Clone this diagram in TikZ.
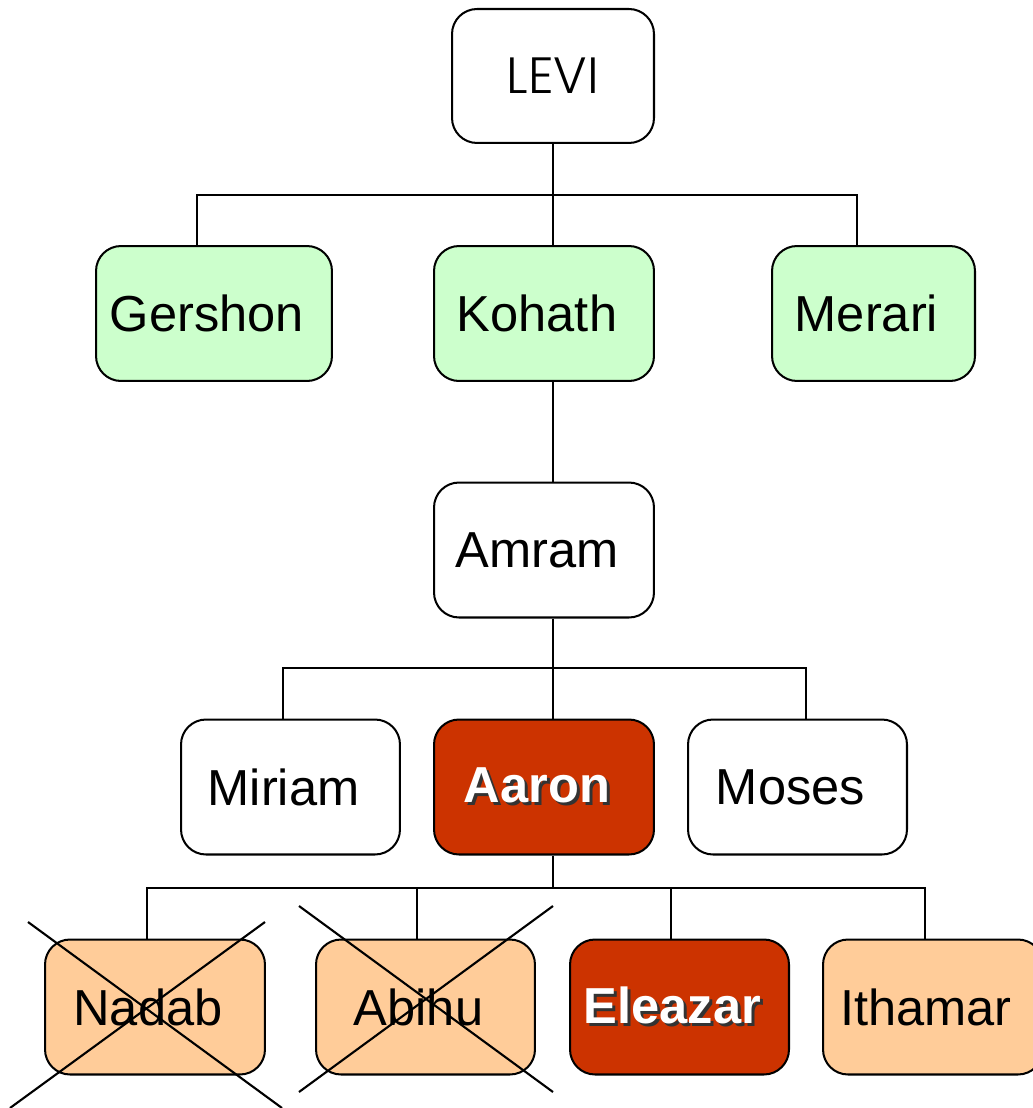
\documentclass[tikz,border=0pt]{standalone}
\usepackage{fontspec}
\setmainfont{Liberation Sans}
\newfontfamily\levifont{Poppins Light}
\definecolor{kidgreen}{HTML}{CCFFCC}
\definecolor{aaronred}{HTML}{CC3300}
\definecolor{peach}{HTML}{FFCC99}
\newcommand{\shadowname}[1]{\makebox[0pt][l]{\hspace*{0.06cm}\raisebox{-0.06cm}{\color{black!80}#1}}\color{white}#1}
\tikzset{
  basebox/.style={draw=black, line width=1.15pt, rounded corners=0.5cm,
    minimum width=4.4cm, minimum height=2.7cm, inner sep=0pt},
  person/.style={basebox, font=\fontsize{28.8}{30}\selectfont,
    execute at begin node={\hspace*{-0.28cm}}},
  greenbox/.style={person, fill=kidgreen},
  redbox/.style={person, fill=aaronred, font=\fontsize{28.8}{30}\selectfont\bfseries},
  peachbox/.style={person, fill=peach},
  whitebox/.style={person, fill=white},
  conn/.style={draw=black, line width=0.85pt},
  crossline/.style={draw=black, line width=1.2pt},
}
\begin{document}
\begin{tikzpicture}[x=0.02cm, y=-0.02cm]
\useasboundingbox (0,0) rectangle (1033,1108);
\clip (0,0) rectangle (1033,1108);

% nodes
\node[basebox, fill=white, minimum width=4.04cm, minimum height=2.68cm,
      font=\levifont\fontsize{29}{30}\selectfont]
      (levi) at (553,76) {LEVI};
\node[greenbox, minimum width=4.72cm] (gershon) at (214,313.5) {Gershon};
\node[greenbox] (kohath) at (544,313.5) {Kohath};
\node[greenbox, minimum width=4.06cm] (merari) at (873.5,313.5) {Merari};
\node[whitebox] (amram) at (544,550) {Amram};
\node[whitebox, minimum width=4.38cm] (miriam) at (290.5,787) {Miriam};
\node[redbox] (aaron) at (544,787) {\shadowname{Aaron}};
\node[whitebox, minimum width=4.38cm] (moses) at (797.5,787) {Moses};
\node[peachbox] (nadab) at (155,1007) {Nadab};
\node[peachbox, minimum width=4.38cm] (abihu) at (425.5,1007) {Abihu};
\node[redbox, minimum width=4.38cm] (eleazar) at (679.5,1007) {\shadowname{Eleazar}};
\node[peachbox] (ithamar) at (933,1007) {Ithamar};

% bus points
\coordinate (bus1) at (553,195);
\coordinate (bus2) at (553,668);
\coordinate (bus3) at (553,888);

% connectors
\draw[conn] (553,0 |- levi.south) -- (bus1);
\draw[conn] (197,0 |- gershon.north) |- (bus1) -| (857,0 |- merari.north);
\draw[conn] (bus1) -- (553,0 |- kohath.north);
\draw[conn] (553,0 |- kohath.south) -- (553,0 |- amram.north);
\draw[conn] (553,0 |- amram.south) -- (bus2);
\draw[conn] (283,0 |- miriam.north) |- (bus2) -| (806,0 |- moses.north);
\draw[conn] (bus2) -- (553,0 |- aaron.north);
\draw[conn] (553,0 |- aaron.south) -- (bus3);
\draw[conn] (147,0 |- nadab.north) |- (bus3) -| (925,0 |- ithamar.north);
\draw[conn] (417,0 |- abihu.north) -- (417,888);
\draw[conn] (671,0 |- eleazar.north) -- (671,888);

% crosses
\draw[crossline] (28,922) -- (282,1108);
\draw[crossline] (265,922) -- (10,1108);
\draw[crossline] (299,906) -- (553,1092);
\draw[crossline] (553,906) -- (299,1092);
\end{tikzpicture}
\end{document}
